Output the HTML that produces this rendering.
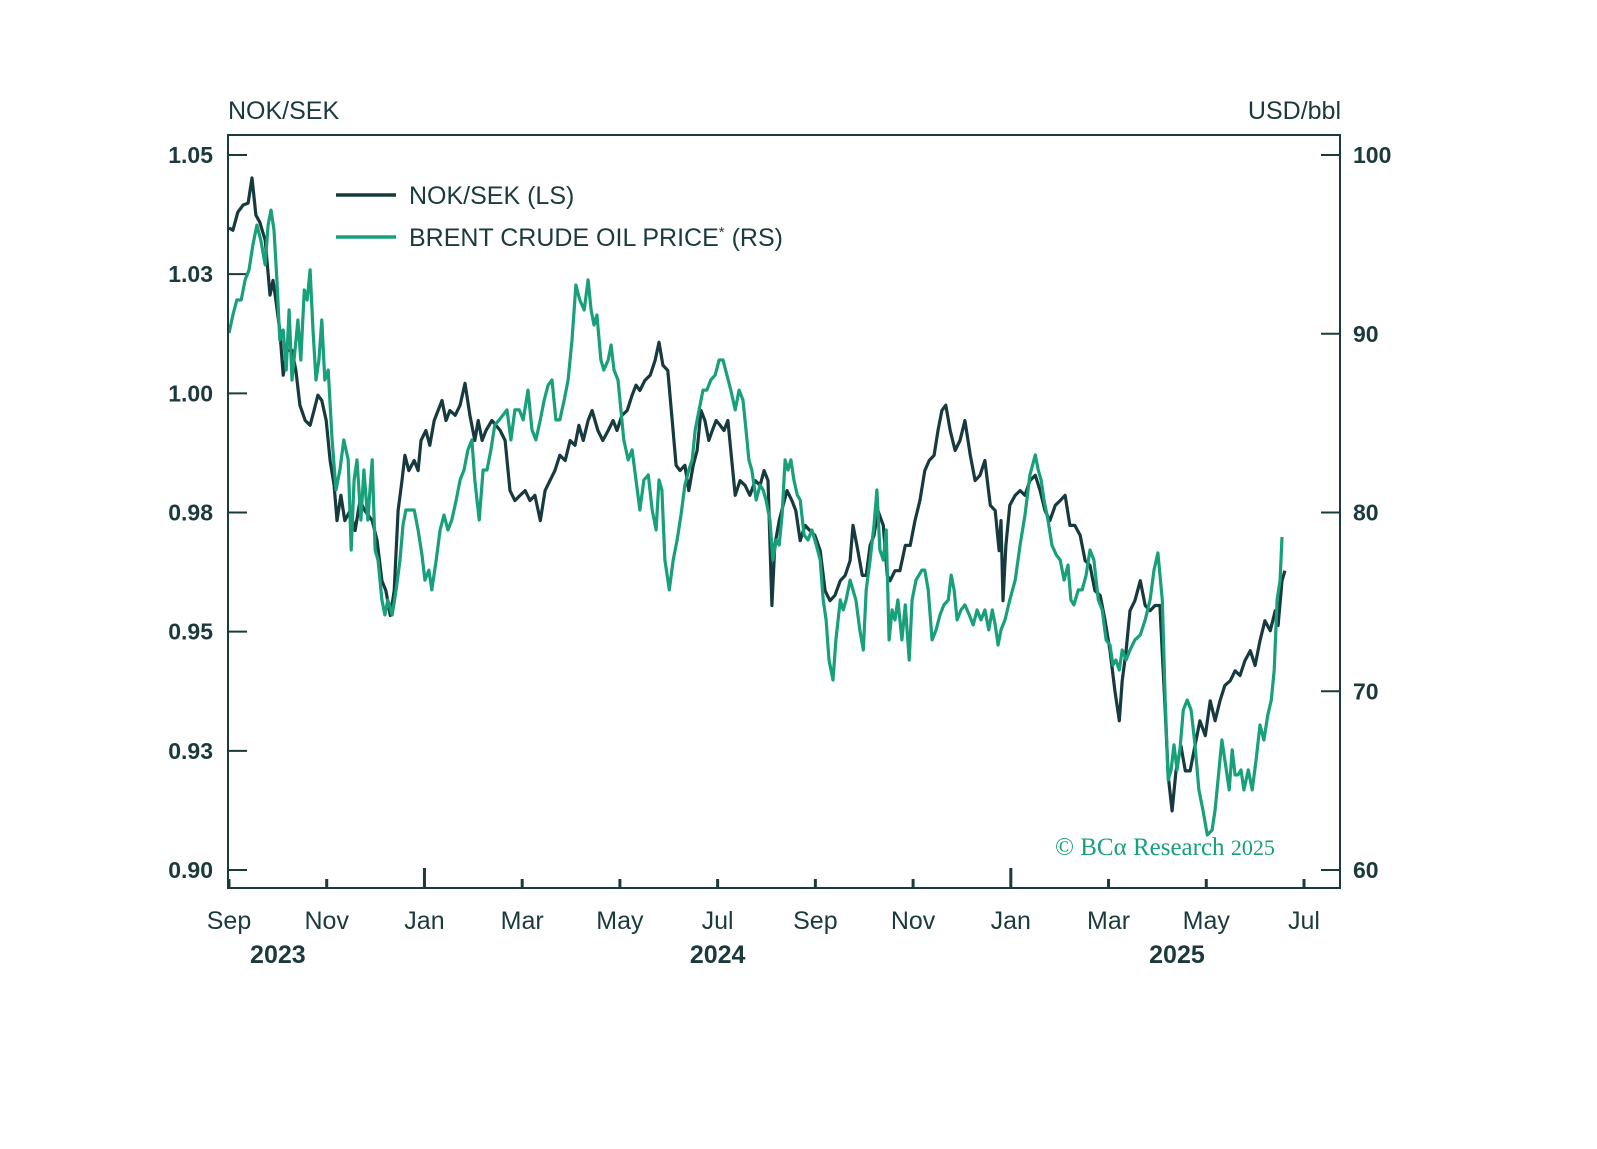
<!DOCTYPE html>
<html><head><meta charset="utf-8"><style>
html,body{margin:0;padding:0;background:#fff;}
svg text{font-family:"Liberation Sans",sans-serif;}
</style></head><body>
<svg id="chart" width="1597" height="1144" viewBox="0 0 1597 1144" xmlns="http://www.w3.org/2000/svg">
<rect width="1597" height="1144" fill="#fff"/>
<text x="228" y="119" font-size="25" fill="#1b3a3c">NOK/SEK</text>
<text x="1341" y="119" font-size="25" fill="#1b3a3c" text-anchor="end">USD/bbl</text>
<g id="grid"></g>
<g id="series"></g>
<rect x="228" y="135" width="1112" height="753" fill="none" stroke="#1b3a3c" stroke-width="2"/>
<g>
<line x1="336" y1="195" x2="396" y2="195" stroke="#163a3e" stroke-width="3.5"/>
<text x="409" y="204" font-size="25" fill="#1b3a3c">NOK/SEK (LS)</text>
<line x1="336" y1="237" x2="396" y2="237" stroke="#17a07a" stroke-width="3.5"/>
<text x="409" y="246" font-size="25" fill="#1b3a3c">BRENT CRUDE OIL PRICE<tspan font-size="15" dy="-9">*</tspan><tspan dy="9"> (RS)</tspan></text>
</g>
<text x="1055" y="855" font-size="25" fill="#17a07a" style="font-family:'Liberation Serif',serif">© BCα Research <tspan font-size="22">2025</tspan></text>
</svg>
<script>
const leftTicks=[1.05,1.025,1.00,0.975,0.95,0.925,0.90];
const leftTickLabels=["1.05","1.03","1.00","0.98","0.95","0.93","0.90"];
const rightTicks=[100,90,80,70,60];
const rightTickLabels=["100","90","80","70","60"];
const monthTicks=[0,2,4,6,8,10,12,14,16,18,20,22];
const monthLabels=["Sep","Nov","Jan","Mar","May","Jul","Sep","Nov","Jan","Mar","May","Jul"];
const majorTicks=[4,16];
const yearLabels=["2023","2024","2025"];
const yearPositions=[1,10,19.4];
const nokMonths=[0.00,0.08,0.18,0.29,0.39,0.47,0.55,0.63,0.74,0.84,0.90,0.96,1.04,1.11,1.19,1.29,1.37,1.45,1.56,1.66,1.74,1.82,1.90,1.99,2.07,2.15,2.21,2.29,2.37,2.48,2.58,2.68,2.78,2.93,3.03,3.13,3.21,3.30,3.38,3.46,3.54,3.60,3.68,3.79,3.87,3.93,4.03,4.11,4.20,4.28,4.36,4.44,4.52,4.63,4.73,4.83,4.93,5.03,5.10,5.18,5.26,5.38,5.55,5.65,5.75,5.85,5.96,6.06,6.16,6.26,6.37,6.47,6.57,6.67,6.77,6.88,6.98,7.08,7.16,7.25,7.35,7.43,7.55,7.65,7.76,7.86,7.94,8.04,8.15,8.25,8.33,8.41,8.51,8.62,8.72,8.80,8.88,8.98,9.07,9.15,9.23,9.33,9.41,9.50,9.58,9.66,9.74,9.82,9.89,9.97,10.05,10.13,10.21,10.27,10.36,10.46,10.56,10.66,10.77,10.87,10.95,11.03,11.11,11.17,11.26,11.34,11.42,11.52,11.60,11.69,11.79,11.89,11.99,12.10,12.20,12.30,12.40,12.51,12.61,12.71,12.77,12.85,12.96,13.04,13.12,13.20,13.28,13.39,13.47,13.53,13.63,13.73,13.84,13.94,14.04,14.14,14.24,14.33,14.43,14.51,14.59,14.67,14.76,14.86,14.96,15.06,15.17,15.27,15.37,15.47,15.58,15.68,15.76,15.80,15.84,15.90,15.98,16.09,16.19,16.29,16.39,16.50,16.60,16.70,16.80,16.91,17.01,17.11,17.21,17.31,17.42,17.52,17.62,17.72,17.83,17.93,18.03,18.13,18.22,18.28,18.36,18.44,18.54,18.65,18.75,18.85,18.95,19.05,19.16,19.22,19.30,19.38,19.48,19.57,19.67,19.77,19.87,19.98,20.08,20.18,20.28,20.38,20.49,20.59,20.69,20.79,20.90,21.00,21.10,21.20,21.31,21.41,21.47,21.55,21.61];
const nokValues=[1.0347,1.0342,1.0380,1.0395,1.0399,1.0452,1.0374,1.0359,1.0321,1.0206,1.0237,1.0195,1.0132,1.0038,1.0090,1.0090,1.0048,0.9975,0.9943,0.9933,0.9964,0.9996,0.9985,0.9943,0.9859,0.9807,0.9733,0.9786,0.9733,0.9754,0.9712,0.9775,0.9754,0.9733,0.9691,0.9607,0.9586,0.9534,0.9586,0.9754,0.9817,0.9870,0.9838,0.9859,0.9838,0.9901,0.9922,0.9891,0.9943,0.9964,0.9985,0.9943,0.9964,0.9954,0.9975,1.0021,0.9954,0.9901,0.9943,0.9901,0.9922,0.9943,0.9922,0.9901,0.9796,0.9775,0.9786,0.9796,0.9775,0.9786,0.9733,0.9796,0.9817,0.9838,0.9870,0.9859,0.9901,0.9891,0.9933,0.9901,0.9943,0.9964,0.9922,0.9901,0.9922,0.9943,0.9922,0.9954,0.9964,0.9996,1.0017,1.0006,1.0027,1.0038,1.0069,1.0107,1.0059,1.0048,0.9943,0.9849,0.9838,0.9849,0.9796,0.9849,0.9880,0.9964,0.9943,0.9901,0.9922,0.9943,0.9933,0.9922,0.9943,0.9880,0.9786,0.9817,0.9807,0.9786,0.9817,0.9807,0.9838,0.9817,0.9555,0.9681,0.9733,0.9765,0.9796,0.9775,0.9754,0.9691,0.9723,0.9712,0.9702,0.9670,0.9586,0.9565,0.9576,0.9607,0.9618,0.9649,0.9723,0.9681,0.9618,0.9618,0.9681,0.9702,0.9754,0.9723,0.9618,0.9607,0.9628,0.9628,0.9681,0.9681,0.9733,0.9775,0.9838,0.9859,0.9870,0.9922,0.9964,0.9975,0.9922,0.9880,0.9901,0.9943,0.9870,0.9817,0.9828,0.9859,0.9765,0.9754,0.9670,0.9733,0.9565,0.9681,0.9765,0.9786,0.9796,0.9786,0.9817,0.9828,0.9796,0.9754,0.9733,0.9765,0.9775,0.9786,0.9723,0.9723,0.9702,0.9649,0.9639,0.9586,0.9576,0.9523,0.9460,0.9376,0.9313,0.9397,0.9460,0.9544,0.9565,0.9607,0.9555,0.9544,0.9555,0.9555,0.9334,0.9197,0.9124,0.9208,0.9261,0.9208,0.9208,0.9261,0.9313,0.9282,0.9355,0.9313,0.9355,0.9387,0.9397,0.9418,0.9408,0.9439,0.9460,0.9429,0.9481,0.9523,0.9502,0.9544,0.9513,0.9607,0.9628];
const oilMonths=[0.00,0.08,0.16,0.25,0.33,0.41,0.49,0.57,0.65,0.74,0.80,0.86,0.92,0.98,1.04,1.11,1.17,1.23,1.29,1.35,1.41,1.47,1.54,1.60,1.66,1.72,1.78,1.84,1.90,1.96,2.03,2.11,2.19,2.27,2.35,2.44,2.50,2.56,2.62,2.70,2.76,2.84,2.93,2.99,3.05,3.13,3.19,3.25,3.34,3.42,3.50,3.56,3.62,3.70,3.79,3.87,3.95,4.01,4.09,4.15,4.24,4.32,4.40,4.48,4.56,4.65,4.73,4.81,4.89,4.97,5.03,5.12,5.20,5.28,5.36,5.44,5.53,5.61,5.69,5.77,5.85,5.94,6.02,6.12,6.20,6.28,6.37,6.45,6.53,6.61,6.69,6.77,6.86,6.94,7.02,7.10,7.18,7.27,7.35,7.41,7.47,7.53,7.61,7.67,7.76,7.82,7.88,7.96,8.02,8.08,8.17,8.25,8.33,8.41,8.49,8.58,8.66,8.74,8.80,8.86,8.92,9.01,9.09,9.17,9.25,9.33,9.41,9.48,9.54,9.62,9.70,9.78,9.86,9.95,10.03,10.11,10.19,10.27,10.36,10.44,10.52,10.58,10.64,10.70,10.79,10.87,10.93,10.99,11.07,11.13,11.20,11.26,11.32,11.38,11.44,11.50,11.56,11.63,11.69,11.77,11.85,11.93,12.02,12.10,12.16,12.22,12.28,12.36,12.42,12.51,12.57,12.63,12.71,12.77,12.83,12.91,12.98,13.04,13.12,13.20,13.26,13.32,13.39,13.45,13.51,13.57,13.63,13.69,13.77,13.84,13.92,13.98,14.06,14.12,14.18,14.24,14.31,14.39,14.47,14.55,14.63,14.72,14.78,14.84,14.90,14.98,15.06,15.15,15.23,15.31,15.39,15.47,15.55,15.62,15.68,15.74,15.80,15.88,15.98,16.09,16.19,16.29,16.39,16.50,16.56,16.62,16.68,16.76,16.84,16.93,17.01,17.09,17.17,17.23,17.29,17.38,17.46,17.54,17.62,17.70,17.79,17.87,17.95,18.03,18.09,18.15,18.22,18.28,18.36,18.44,18.54,18.65,18.75,18.85,18.93,19.01,19.10,19.16,19.22,19.28,19.34,19.40,19.46,19.53,19.61,19.69,19.77,19.85,19.93,20.02,20.12,20.18,20.26,20.32,20.41,20.47,20.53,20.59,20.65,20.71,20.77,20.86,20.94,21.02,21.10,21.18,21.26,21.33,21.39,21.45,21.51,21.55];
const oilValues=[90.04,91.05,91.89,91.89,93.01,93.57,94.97,96.08,95.24,93.85,96.08,96.92,95.80,93.01,89.65,90.21,87.97,91.33,87.41,89.09,90.77,88.53,92.45,91.89,93.57,90.21,87.41,88.53,90.77,87.41,87.97,84.06,81.26,82.38,84.06,82.94,77.90,81.82,82.94,79.58,82.38,79.58,82.94,77.90,77.34,75.11,74.27,75.11,74.27,75.67,77.34,79.30,80.14,80.14,80.14,79.02,77.62,76.22,76.78,75.67,77.34,79.02,79.86,79.02,79.58,80.70,81.82,82.38,83.50,84.06,81.82,79.58,82.38,82.38,83.50,84.90,85.18,85.46,85.74,84.06,85.74,85.74,85.18,86.85,84.62,84.06,85.18,86.29,87.13,87.41,85.18,85.18,86.29,87.41,89.65,92.73,91.89,91.33,93.01,91.33,90.49,91.05,88.53,87.97,88.53,89.37,87.97,87.41,85.74,84.06,82.94,83.50,81.82,80.14,81.82,82.10,80.14,79.02,81.82,81.26,77.34,75.67,77.34,78.46,79.86,81.54,82.38,82.94,84.62,85.74,86.85,86.85,87.41,87.69,88.53,88.53,87.69,86.85,85.74,86.85,86.29,84.62,82.94,82.38,80.70,81.54,81.26,80.70,79.58,77.34,78.46,78.18,79.86,82.94,82.38,82.94,81.82,80.98,80.70,78.74,78.46,79.02,78.18,77.34,75.11,73.99,71.75,70.63,72.87,75.11,74.55,75.11,76.22,75.67,75.11,73.43,72.31,75.67,77.34,79.30,81.26,77.90,77.34,79.02,72.87,74.55,73.99,75.11,72.87,74.83,71.75,75.11,76.22,76.50,76.78,76.78,75.67,72.87,73.43,74.27,74.83,75.11,76.50,75.67,73.99,74.55,74.83,74.27,73.71,74.55,73.99,74.55,73.43,74.55,73.71,72.59,73.43,73.99,75.11,76.22,78.18,79.86,82.10,83.22,82.38,81.82,80.70,79.58,78.18,77.62,77.34,76.22,77.06,75.11,74.83,75.67,75.67,76.50,77.90,77.34,75.11,74.55,72.87,72.59,71.47,71.75,71.19,72.31,71.75,72.31,72.87,73.15,73.99,75.11,76.78,77.74,75.11,69.51,65.04,65.60,67.00,65.60,66.72,68.95,69.51,68.95,67.00,64.48,63.36,61.96,62.24,63.36,65.60,67.27,65.60,64.48,66.72,65.32,65.32,65.60,64.48,65.60,64.48,66.16,68.11,67.27,68.67,69.51,71.19,75.11,76.22,78.63];

const NS="http://www.w3.org/2000/svg";
const X0=229,X1=1304,PT=155,PB=870;
function xScale(m){return X0+(m-0)/(22-0)*(X1-X0);}
function yLeft(v){return PT+(1.05-v)/(1.05-0.90)*(PB-PT);}
function yRight(v){return PT+(100-v)/(100-60)*(PB-PT);}
function mk(tag,attrs,parent){const e=document.createElementNS(NS,tag);for(const k in attrs)e.setAttribute(k,attrs[k]);parent.appendChild(e);return e;}
const grid=document.getElementById('grid');
const series=document.getElementById('series');
const ink="#1b3a3c";
leftTicks.forEach((v,i)=>{
  const y=yLeft(v);
  const t=mk('line',{x1:228,x2:247,y1:y,y2:y,stroke:ink,'stroke-width':2},grid);
  
  
  const l=mk('text',{x:213,y:y+8,'font-size':23,'font-weight':'bold','text-anchor':'end',fill:ink},grid);
  l.textContent=leftTickLabels[i];
  
  
});
rightTicks.forEach((v,i)=>{
  const y=yRight(v);
  const t=mk('line',{x1:1321,x2:1340,y1:y,y2:y,stroke:ink,'stroke-width':2},grid);
  
  
  const l=mk('text',{x:1353,y:y+8,'font-size':23,'font-weight':'bold',fill:ink},grid);
  l.textContent=rightTickLabels[i];
  
  
});
monthTicks.forEach((m,i)=>{
  const x=xScale(m);
  const major=majorTicks.includes(m);
  const t=mk('line',{x1:x,x2:x,y1:major?868:879,y2:888,stroke:ink,'stroke-width':3},grid);
  
  
  const l=mk('text',{x:x,y:929,'font-size':25,'text-anchor':'middle',fill:ink},grid);
  l.textContent=monthLabels[i];
  
  
});
yearLabels.forEach((yl,i)=>{
  const l=mk('text',{x:xScale(yearPositions[i]),y:963,'font-size':25,'font-weight':'bold','text-anchor':'middle',fill:ink},grid);
  l.textContent=yl;
  
  
});
function pathFor(ms,vs,ys){const n=Math.min(ms.length,vs.length);let d='';for(let i=0;i<n;i++){d+=(i?'L':'M')+xScale(ms[i]).toFixed(1)+','+ys(vs[i]).toFixed(1);}return d;}
const nokLine=mk('path',{d:pathFor(nokMonths,nokValues,yLeft),fill:'none',stroke:'#163a3e','stroke-width':3.2,'stroke-linejoin':'round'},series);


const oilLine=mk('path',{d:pathFor(oilMonths,oilValues,yRight),fill:'none',stroke:'#17a07a','stroke-width':3.2,'stroke-linejoin':'round'},series);


</script>
</body></html>
